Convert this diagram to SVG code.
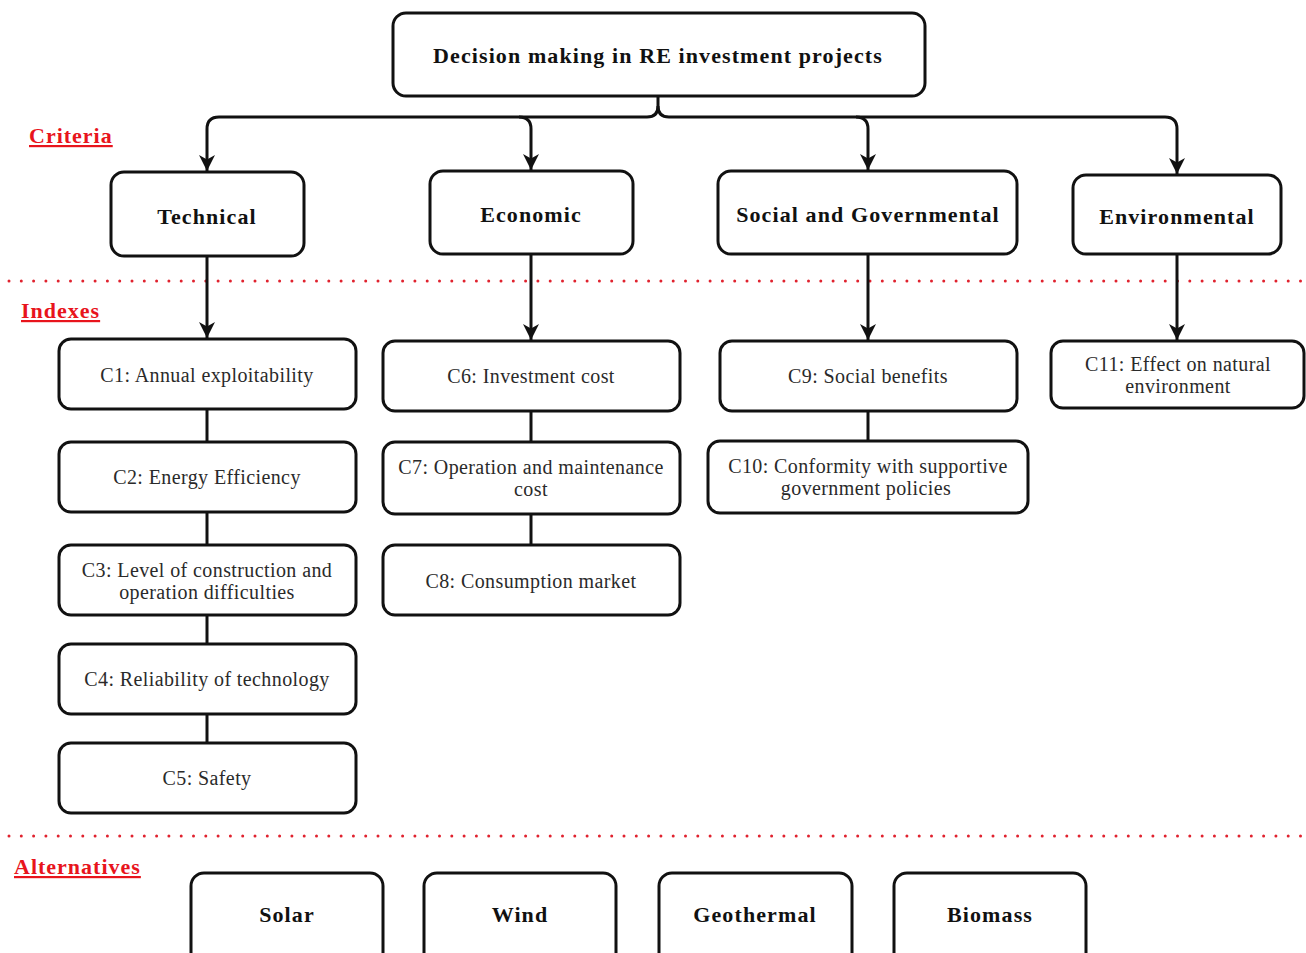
<svg xmlns="http://www.w3.org/2000/svg" width="1306" height="953" viewBox="0 0 1306 953">
<style>
.box{fill:#fff;stroke:#111;stroke-width:3}
.crit{font-family:"Liberation Serif",serif;font-weight:bold;font-size:22px;letter-spacing:1.1px;fill:#111;text-anchor:middle}
.idx{font-family:"Liberation Serif",serif;font-size:20px;letter-spacing:0.4px;fill:#2a2a2a;text-anchor:middle}
.lbl{font-family:"Liberation Serif",serif;font-weight:bold;font-size:22px;letter-spacing:1px;fill:#e8141c;text-decoration:underline}
.dots{stroke:#e0222e;stroke-width:3;stroke-linecap:round;stroke-dasharray:0 12.3}
.con{fill:none;stroke:#111;stroke-width:3}
</style>
<defs>
<marker id="arr" markerUnits="userSpaceOnUse" markerWidth="16" markerHeight="16" refX="14" refY="7" orient="auto" viewBox="0 0 14 14">
<path d="M0,0 L14,7 L0,14 L4,7 z" fill="#111"/>
</marker>
</defs>

<g id="separators">
<line class="dots" x1="9" y1="281" x2="1306" y2="281"/>
<line class="dots" x1="9" y1="836" x2="1306" y2="836"/>
</g>

<g id="labels">
<text class="lbl" x="29" y="143">Criteria</text>
<text class="lbl" x="21" y="318">Indexes</text>
<text class="lbl" x="14" y="874">Alternatives</text>
</g>

<g id="connectors">
<path class="con" d="M658,96 L658,106 Q658,117 647,117 L219,117 Q207,117 207,129 L207,171" marker-end="url(#arr)"/>
<path class="con" d="M658,106 Q658,117 669,117 L1165,117 Q1177,117 1177,129 L1177,174" marker-end="url(#arr)"/>
<path class="con" d="M519,117 Q531,117 531,129 L531,170" marker-end="url(#arr)"/>
<path class="con" d="M856,117 Q868,117 868,129 L868,170" marker-end="url(#arr)"/>
<line class="con" x1="207" y1="256" x2="207" y2="338" marker-end="url(#arr)"/>
<line class="con" x1="531" y1="254" x2="531" y2="340" marker-end="url(#arr)"/>
<line class="con" x1="868" y1="254" x2="868" y2="340" marker-end="url(#arr)"/>
<line class="con" x1="1177" y1="254" x2="1177" y2="340" marker-end="url(#arr)"/>
<line class="con" x1="207" y1="409" x2="207" y2="442"/>
<line class="con" x1="207" y1="512" x2="207" y2="545"/>
<line class="con" x1="207" y1="615" x2="207" y2="644"/>
<line class="con" x1="207" y1="714" x2="207" y2="743"/>
<line class="con" x1="531" y1="411" x2="531" y2="442"/>
<line class="con" x1="531" y1="514" x2="531" y2="545"/>
<line class="con" x1="868" y1="411" x2="868" y2="441"/>
</g>

<g id="root">
<rect class="box" x="393" y="13" width="532" height="83" rx="13"/>
<text class="crit" x="658" y="63">Decision making in RE investment projects</text>
</g>

<g id="technical">
<rect class="box" x="111" y="172" width="193" height="84" rx="13"/>
<text class="crit" x="207" y="224">Technical</text>
</g>
<g id="economic">
<rect class="box" x="430" y="171" width="203" height="83" rx="13"/>
<text class="crit" x="531" y="222">Economic</text>
</g>
<g id="social">
<rect class="box" x="718" y="171" width="299" height="83" rx="13"/>
<text class="crit" x="868" y="222">Social and Governmental</text>
</g>
<g id="environmental">
<rect class="box" x="1073" y="175" width="208" height="79" rx="13"/>
<text class="crit" x="1177" y="224">Environmental</text>
</g>

<g id="c1"><rect class="box" x="59" y="339" width="297" height="70" rx="12"/><text class="idx" x="207" y="382">C1: Annual exploitability</text></g>
<g id="c2"><rect class="box" x="59" y="442" width="297" height="70" rx="12"/><text class="idx" x="207" y="484">C2: Energy Efficiency</text></g>
<g id="c3"><rect class="box" x="59" y="545" width="297" height="70" rx="12"/><text class="idx" x="207" y="577">C3: Level of construction and</text><text class="idx" x="207" y="599">operation difficulties</text></g>
<g id="c4"><rect class="box" x="59" y="644" width="297" height="70" rx="12"/><text class="idx" x="207" y="686">C4: Reliability of technology</text></g>
<g id="c5"><rect class="box" x="59" y="743" width="297" height="70" rx="12"/><text class="idx" x="207" y="785">C5: Safety</text></g>

<g id="c6"><rect class="box" x="383" y="341" width="297" height="70" rx="12"/><text class="idx" x="531" y="383">C6: Investment cost</text></g>
<g id="c7"><rect class="box" x="383" y="442" width="297" height="72" rx="12"/><text class="idx" x="531" y="474">C7: Operation and maintenance</text><text class="idx" x="531" y="496">cost</text></g>
<g id="c8"><rect class="box" x="383" y="545" width="297" height="70" rx="12"/><text class="idx" x="531" y="588">C8: Consumption market</text></g>

<g id="c9"><rect class="box" x="720" y="341" width="297" height="70" rx="12"/><text class="idx" x="868" y="383">C9: Social benefits</text></g>
<g id="c10"><rect class="box" x="708" y="441" width="320" height="72" rx="12"/><text class="idx" x="868" y="473">C10: Conformity with supportive</text><text class="idx" x="866" y="495">government policies</text></g>

<g id="c11"><rect class="box" x="1051" y="341" width="253" height="67" rx="12"/><text class="idx" x="1178" y="371">C11: Effect on natural</text><text class="idx" x="1178" y="393">environment</text></g>

<g id="solar"><rect class="box" x="191" y="873" width="192" height="95" rx="13"/><text class="crit" x="287" y="922">Solar</text></g>
<g id="wind"><rect class="box" x="424" y="873" width="192" height="95" rx="13"/><text class="crit" x="520" y="922">Wind</text></g>
<g id="geothermal"><rect class="box" x="659" y="873" width="193" height="95" rx="13"/><text class="crit" x="755" y="922">Geothermal</text></g>
<g id="biomass"><rect class="box" x="894" y="873" width="192" height="95" rx="13"/><text class="crit" x="990" y="922">Biomass</text></g>
</svg>
